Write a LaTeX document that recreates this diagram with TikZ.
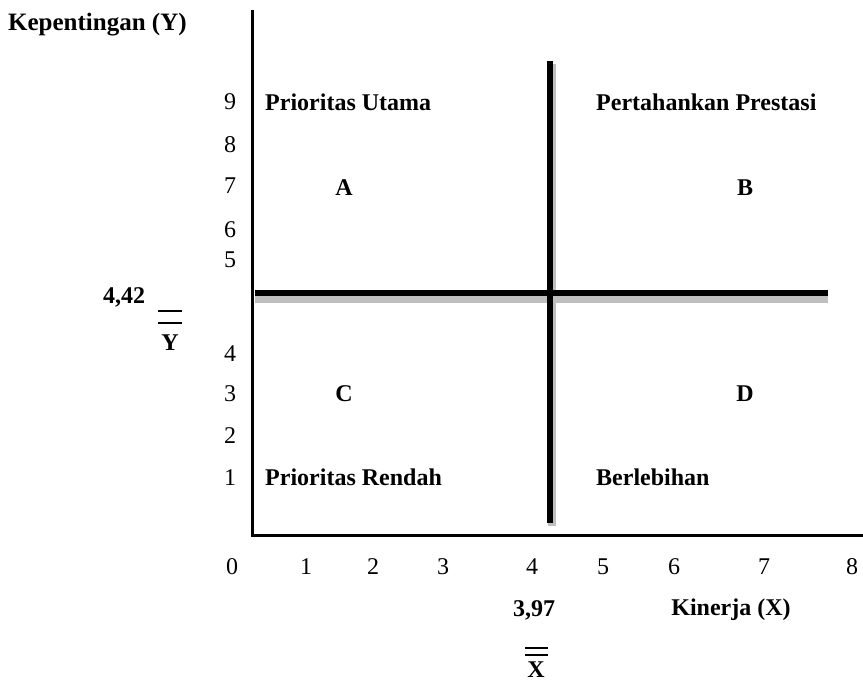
\documentclass[tikz,border=0pt]{standalone}
\usepackage{fontspec}
\setmainfont{Liberation Serif}
\begin{document}
\begin{tikzpicture}[x=1pt,y=-1pt,
  every node/.style={inner sep=0pt,font=\fontsize{24}{26}\selectfont},
  lbl/.style={font=\fontsize{24}{26}\selectfont\bfseries},
  tick/.style={anchor=base},
  axis/.style={line width=3pt,black},
  quad/.style={line width=6pt,black},
  shade/.style={line width=8pt,black!25}]
\useasboundingbox (0,0) rectangle (863,682);
% axes
\coordinate (ytop) at (252,10);
\coordinate (orig) at (252,535);
\coordinate (xend) at (863,535);
\draw[axis] (ytop) -- (orig) -- (xend);
% quadrant lines
\coordinate (vtop) at (550,61);
\coordinate (vbot) at (550,523);
\coordinate (hl) at (255,293);
\coordinate (hr) at (828,293);
\draw[shade] ([xshift=2pt,yshift=-3pt]vtop) -- ([xshift=2pt,yshift=-3pt]vbot);
\draw[shade] ([yshift=-6pt]hl) -- ([yshift=-6pt]hr);
\draw[quad] (vtop) -- (vbot);
\draw[quad] (hl) -- (hr);
% axis titles
\node[lbl,anchor=base west,font=\fontsize{25}{27}\selectfont\bfseries] (ytitle) at (8,31) {Kepentingan (Y)};
\node[lbl,anchor=base] (xtitle) at (731,615) {Kinerja (X)};
% y ticks
\foreach \v/\yy in {9/110,8/153,7/194,6/237,5/268,4/361,3/401,2/443,1/485}
  \node[tick] (y\v) at (230,\yy) {\v};
% x ticks
\foreach \v/\xx in {0/232,1/306,2/373,3/443,4/532,5/603,6/674,7/764,8/852}
  \node[tick] (x\v) at (\xx,574) {\v};
% means
\node[lbl,anchor=base] (ymean) at (124,303) {4,42};
\node[lbl,anchor=base] (ybar) at (170,350) {Y};
\draw[line width=1.6pt] (158,311) -- (182,311);
\draw[line width=1.6pt] (158,323) -- (182,323);
\node[lbl,anchor=base] (xmean) at (534,616) {3,97};
\node[lbl,anchor=base] (xbar) at (536,677) {X};
\draw[line width=1.6pt] (525,648) -- (548,648);
\draw[line width=1.6pt] (525,655) -- (548,655);
% quadrant labels
\node[lbl,anchor=base west] (qa) at (265,111) {Prioritas Utama};
\node[lbl,anchor=base west] (qb) at (596,111) {Pertahankan Prestasi};
\node[lbl,anchor=base] (la) at (344,196) {A};
\node[lbl,anchor=base] (lb) at (745,196) {B};
\node[lbl,anchor=base] (lc) at (344,401) {C};
\node[lbl,anchor=base] (ld) at (745,401) {D};
\node[lbl,anchor=base west] (qc) at (265,485) {Prioritas Rendah};
\node[lbl,anchor=base west] (qd) at (596,485) {Berlebihan};
\end{tikzpicture}
\end{document}
